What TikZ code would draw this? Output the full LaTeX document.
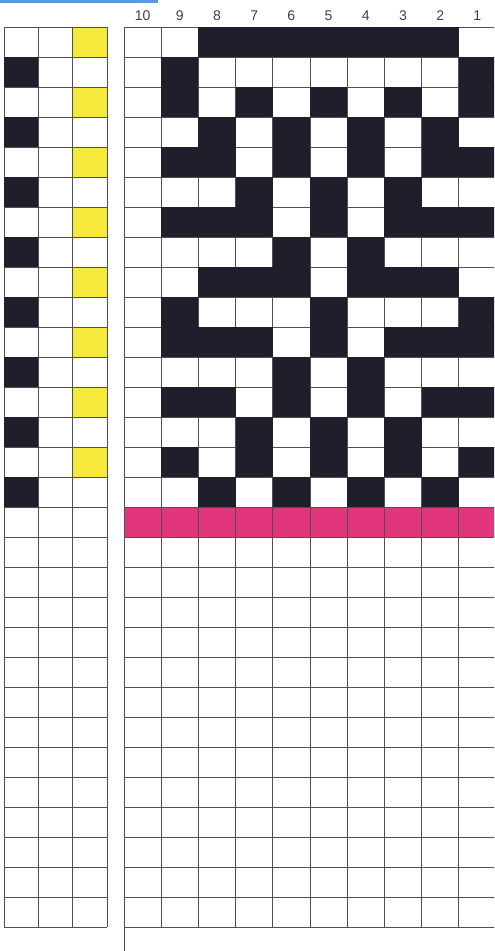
\documentclass[tikz,border=0pt]{standalone}
\usepackage{fontspec}
\setsansfont{Liberation Sans}
\usepackage{xcolor}
\definecolor{ink}{HTML}{1E1F2A}
\definecolor{weft}{HTML}{F6E93C}
\definecolor{band}{HTML}{E2367C}
\definecolor{rule}{HTML}{505050}
\definecolor{capblue}{HTML}{5B9BDD}

\begin{document}
\begin{tikzpicture}[
  x=0.03cm, y=-0.03cm,
  gridline/.style={draw=rule, line width=0.75pt},
  colnum/.style={font=\sffamily\fontsize{12}{12}\selectfont, text=black!75, inner sep=0pt}
]
  \useasboundingbox (0,0) rectangle (494,951);
  \clip (0,0) rectangle (494,951);

  % caption strip cut off at the top
  \fill[capblue] (0,0) rectangle (158,3);

  % left card: tie-up columns
  \foreach \r in {0,2,...,14}
    \fill[weft] (72.7,27+\r*30) rectangle ++(34.3,30);
  \foreach \i in {0,...,30}
    \draw[gridline] (4,27+\i*30) -- (107,27+\i*30);
  \foreach \c in {0,...,3}
    \draw[gridline] (4+\c*34.33,27) -- (4+\c*34.33,927);
  \foreach \r in {1,3,...,15}
    \fill[ink] (4,27+\r*30) rectangle ++(34.3,30);

  % right card: threading pattern, shafts 10 to 1
  \fill[band] (124,507) rectangle (496,537);
  \foreach \i in {0,...,30}
    \draw[gridline] (124,27+\i*30) -- (496,27+\i*30);
  \foreach \c in {1,...,9}
    \draw[gridline] (124+\c*37.2,27) -- (124+\c*37.2,927);
  \draw[gridline] (124,27) -- (124,951);
  \foreach \r/\cols in {0/{2,3,4,5,6,7,8}, 1/{1,9}, 2/{1,3,5,7,9}, 3/{2,4,6,8},
      4/{1,2,4,6,8,9}, 5/{3,5,7}, 6/{1,2,3,5,7,8,9}, 7/{4,6},
      8/{2,3,4,6,7,8}, 9/{1,5,9}, 10/{1,2,3,5,7,8,9}, 11/{4,6},
      12/{1,2,4,6,8,9}, 13/{3,5,7}, 14/{1,3,5,7,9}, 15/{2,4,6,8}}
    \foreach \c in \cols
      \fill[ink] (124+\c*37.2,27+\r*30) rectangle ++(37.2,30);

  % shaft numbers
  \foreach \c [evaluate=\c as \n using int(10-\c)] in {0,...,9}
    \node[colnum] (num\n) at (124+\c*37.2+18.6,16) {\n};
\end{tikzpicture}
\end{document}
